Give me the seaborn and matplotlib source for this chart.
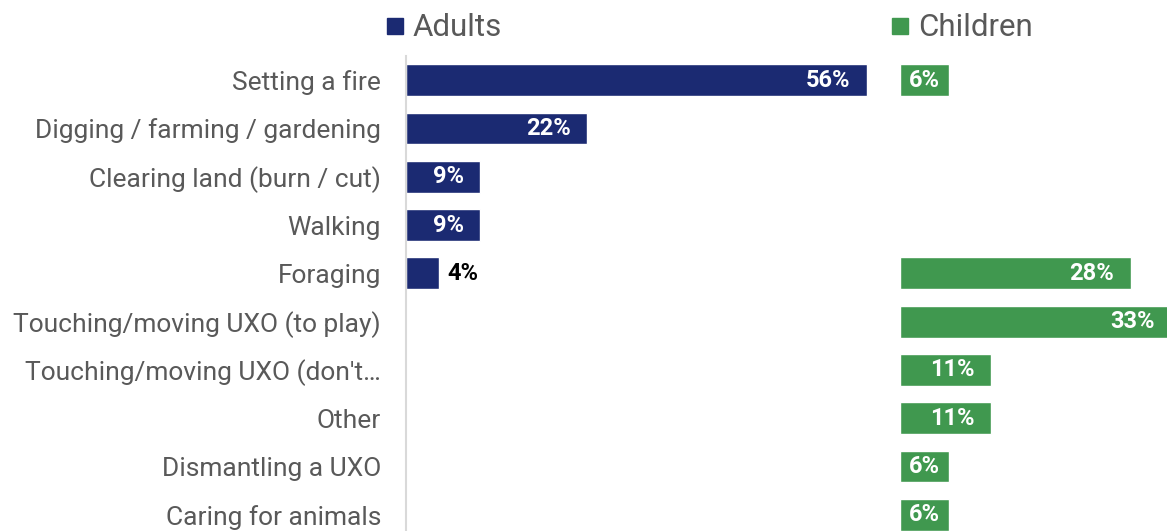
import matplotlib
matplotlib.use("Agg")
import matplotlib.pyplot as plt
import seaborn as sns
import pandas as pd
import numpy as np

activities = [
    "Setting a fire",
    "Digging / farming / gardening",
    "Clearing land (burn / cut)",
    "Walking",
    "Foraging",
    "Touching/moving UXO (to play)",
    "Touching/moving UXO (don't\u2026",
    "Other",
    "Dismantling a UXO",
    "Caring for animals",
]
adults = [56, 22, 9, 9, 4, np.nan, np.nan, np.nan, np.nan, np.nan]
children = [6, np.nan, np.nan, np.nan, 28, 33, 11, 11, 6, 6]

NAVY = "#1b2a72"
GREEN = "#40984f"
GREY_TEXT = "#595959"

sns.set_theme(style="white")
plt.rcParams["font.family"] = ["Roboto", "DejaVu Sans"]

df = pd.DataFrame({"activity": activities, "Adults": adults, "Children": children})

W, H = 1167, 531
fig = plt.figure(figsize=(W / 100, H / 100), dpi=100)

top_px, bot_px = 56, 539
ax_h = (bot_px - top_px) / H
ax_b = 1 - bot_px / H
ax_a = fig.add_axes([406 / W, ax_b, 494 / W, ax_h])
ax_c = fig.add_axes([900 / W, ax_b, 494 / W, ax_h])

for ax, col, color in [(ax_a, "Adults", NAVY), (ax_c, "Children", GREEN)]:
    sns.barplot(data=df, y="activity", x=col, orient="h", color=color,
                saturation=1, width=0.66, ax=ax, order=activities)
    ax.set_xlim(0, 60)
    ax.set_ylim(len(activities) - 0.5, -0.5)
    ax.set_xlabel("")
    ax.set_ylabel("")
    ax.set_xticks([])
    for s in ax.spines.values():
        s.set_visible(False)
    for i, v in enumerate(df[col]):
        if np.isnan(v):
            continue
        label = f"{v:.0f}%"
        style = dict(va="center", fontsize=17, fontweight="bold")
        if v < 5:
            # too short to hold its label: write it just past the bar end
            ax.text(v + 1.0, i, label, ha="left", color="black", **style)
        elif v < 8:
            ax.text(1.1, i, label, ha="left", color="white", **style)
        else:
            ax.text(v - 2.0, i, label, ha="right", color="white", **style)

ax_a.spines["left"].set_visible(True)
ax_a.spines["left"].set_color("#d9d9d9")
ax_a.spines["left"].set_linewidth(1.5)
ax_a.tick_params(axis="y", length=0, pad=18, labelsize=19, labelcolor=GREY_TEXT)
ax_c.set_yticks([])

# series headers
for x_px, name, color in [(387, "Adults", NAVY), (892, "Children", GREEN)]:
    fig.patches.append(plt.Rectangle((x_px / W, 1 - 34 / H), 16 / W, 16 / H,
                                     transform=fig.transFigure, color=color))
    fig.text((x_px + 26) / W, 1 - 28 / H, name, ha="left", va="center",
             fontsize=22.5, color=GREY_TEXT)

fig.savefig("out.png", dpi=100)
